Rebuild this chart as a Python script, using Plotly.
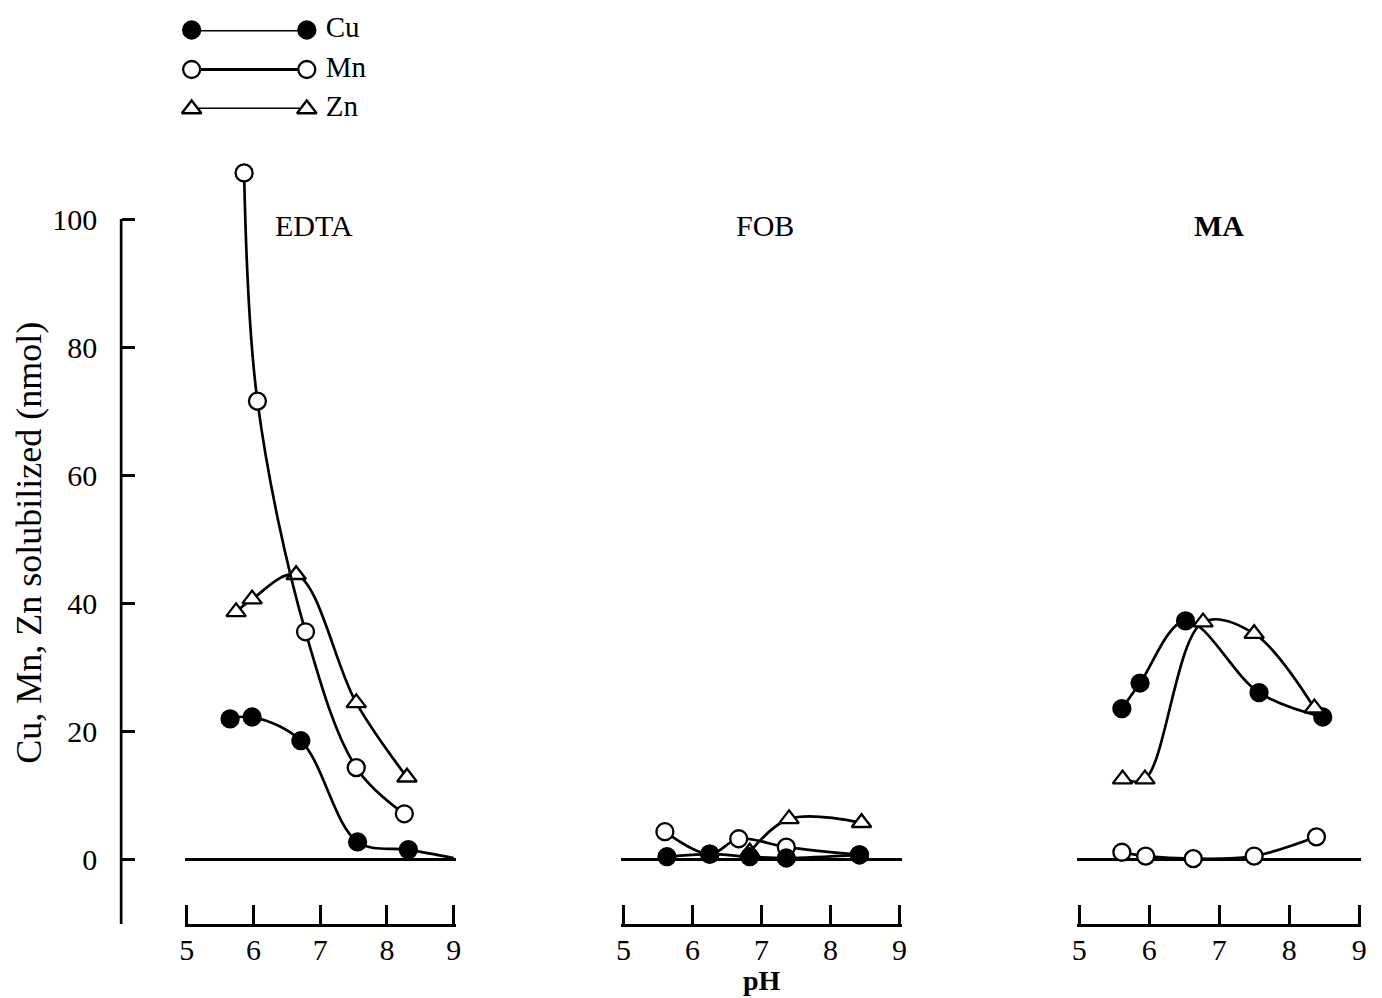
import plotly.graph_objects as go

# pH values and solubilized metal (nmol) for each chelator
edta_cu_ph = [5.65, 5.98, 6.71, 7.56, 8.32]
edta_cu = [22.0, 22.3, 18.6, 2.8, 1.6]
edta_mn_ph = [5.86, 6.06, 6.78, 7.54, 8.26]
edta_mn = [107.2, 71.6, 35.6, 14.4, 7.2]
edta_zn_ph = [5.74, 5.98, 6.64, 7.54, 8.30]
edta_zn = [38.7, 40.7, 44.5, 24.5, 12.9]
# Cu curve for EDTA levels off toward pH 9
edta_cu_tail_ph = [9.0]
edta_cu_tail = [0.3]

fob_cu_ph = [5.63, 6.25, 6.83, 7.36, 8.42]
fob_cu = [0.5, 0.9, 0.5, 0.3, 0.8]
fob_mn_ph = [5.60, 6.25, 6.67, 7.36, 8.42]
fob_mn = [4.4, 0.9, 3.3, 2.0, 0.8]
fob_zn_ph = [6.83, 7.40, 8.45]
fob_zn = [1.2, 6.4, 5.8]

ma_cu_ph = [5.61, 5.87, 6.52, 7.57, 8.48]
ma_cu = [23.6, 27.6, 37.3, 26.1, 22.3]
ma_mn_ph = [5.61, 5.95, 6.63, 7.50, 8.39]
ma_mn = [1.2, 0.6, 0.2, 0.6, 3.6]
ma_zn_ph = [5.62, 5.94, 6.77, 7.50, 8.36]
ma_zn = [12.6, 12.6, 37.1, 35.3, 23.7]

panel_names = ["EDTA", "FOB", "MA"]
panel_label_ph = [6.9, 7.05, 7.0]
metals = ["Cu", "Mn", "Zn"]
ph_ticks = [5, 6, 7, 8, 9]
y_ticks = [0, 20, 40, 60, 80, 100]
y_range = [-10, 110]
# a little padding keeps the end ticks at pH 5 and 9 drawn
PAD = 0.03

FONT = "Liberation Serif"
LW = 2.7
MSIZE = 17

styles = {
    "Cu": dict(symbol="circle", color="black"),
    "Mn": dict(symbol="circle", color="white"),
    "Zn": dict(symbol="triangle-up", color="white"),
}

fig = go.Figure()


def add_series(xs, ys, metal, xa, ya, tail_x=None, tail_y=None):
    lx = list(xs) + (list(tail_x) if tail_x else [])
    ly = list(ys) + (list(tail_y) if tail_y else [])
    fig.add_trace(go.Scatter(
        x=lx, y=ly, xaxis=xa, yaxis=ya, mode="lines",
        line=dict(color="black", width=LW, shape="spline", smoothing=1.0),
        showlegend=False, hoverinfo="skip"))
    st = styles[metal]
    fig.add_trace(go.Scatter(
        x=xs, y=ys, xaxis=xa, yaxis=ya, mode="markers",
        marker=dict(symbol=st["symbol"], size=MSIZE, color=st["color"],
                    line=dict(color="black", width=2.3)),
        showlegend=False, cliponaxis=False))


# EDTA
add_series(edta_zn_ph, edta_zn, "Zn", "x", "y")
add_series(edta_mn_ph, edta_mn, "Mn", "x", "y")
add_series(edta_cu_ph, edta_cu, "Cu", "x", "y", edta_cu_tail_ph, edta_cu_tail)
# FOB
add_series(fob_zn_ph, fob_zn, "Zn", "x2", "y2")
add_series(fob_mn_ph, fob_mn, "Mn", "x2", "y2")
add_series(fob_cu_ph, fob_cu, "Cu", "x2", "y2")
# MA
add_series(ma_mn_ph, ma_mn, "Mn", "x3", "y3")
add_series(ma_cu_ph, ma_cu, "Cu", "x3", "y3")
add_series(ma_zn_ph, ma_zn, "Zn", "x3", "y3")

# empty trace so the free-standing left scale gets drawn
fig.add_trace(go.Scatter(x=[], y=[], xaxis="x", yaxis="y5", mode="markers",
                         showlegend=False, hoverinfo="skip"))

# Key: a short line with a marker at each end, labelled by metal
for m in metals:
    st = styles[m]
    fig.add_trace(go.Scatter(
        x=[0, 1], y=[m, m], xaxis="x4", yaxis="y4", mode="lines+markers+text",
        line=dict(color="black", width=2.8),
        marker=dict(symbol=st["symbol"], size=17, color=st["color"],
                    line=dict(color="black", width=2.3)),
        text=["", " " + m], textposition="middle right",
        textfont=dict(family=FONT, size=29, color="black"),
        showlegend=False, cliponaxis=False, hoverinfo="skip"))

W, H = 1382, 998
# pixel spans of pH 5..9 for each panel
spans = [(183, 452), (623, 901), (1082, 1364)]
y_dom = [(H - 924) / H, (H - 155) / H]

tick_font = dict(family=FONT, size=30, color="black")

layout = dict(
    width=W, height=H, margin=dict(l=0, r=0, t=0, b=0),
    paper_bgcolor="white", plot_bgcolor="white", showlegend=False,
    xaxis4=dict(domain=[188 / W, 304 / W], range=[0, 1], visible=False, anchor="y4"),
    yaxis4=dict(domain=[(H - 109) / H, (H - 30) / H], type="category",
                categoryarray=metals, range=[2, 0], visible=False, anchor="x4"),
    # visible vertical scale at the left of the figure
    yaxis5=dict(
        domain=y_dom, range=y_range, tickvals=y_ticks, ticks="inside",
        ticklen=13, tickwidth=2.5, tickcolor="black", showline=False,
        showgrid=False, zeroline=False, anchor="free", position=117 / W,
        overlaying="y", side="left", ticklabelstandoff=24, tickfont=tick_font),
)
for i in range(3):
    sfx = "" if i == 0 else str(i + 1)
    a, b = spans[i]
    per = (b - a) / 4.0
    dom = [(a - PAD * per) / W, (b + PAD * per) / W]
    layout["xaxis" + sfx] = dict(
        domain=dom, range=[5 - PAD, 9 + PAD], tickvals=ph_ticks,
        ticks="inside", ticklen=19, tickwidth=2.5, tickcolor="black",
        showline=True, linecolor="black", linewidth=2.7, showgrid=False,
        zeroline=False, anchor="y" + sfx, ticklabelstandoff=-3,
        tickfont=tick_font)
    ydef = dict(domain=y_dom, range=y_range, showticklabels=False, ticks="",
                showline=False, showgrid=False, zeroline=True,
                zerolinecolor="black", zerolinewidth=2.7, anchor="x" + sfx)
    if i > 0:
        ydef["matches"] = "y"
    layout["yaxis" + sfx] = ydef

fig.update_layout(**layout)

# Vertical axis line from -10 to 100
fig.add_shape(type="line", xref="paper", yref="y", x0=117 / W, x1=117 / W,
              y0=-10, y1=100, line=dict(color="black", width=2.7))

annotations = []
for i, (name, px) in enumerate(zip(panel_names, panel_label_ph)):
    sfx = "" if i == 0 else str(i + 1)
    annotations.append(dict(
        text=f"<b>{name}</b>" if name == "MA" else name, x=px, y=99,
        xref="x" + sfx, yref="y" + sfx, showarrow=False,
        xanchor="center", yanchor="middle",
        font=dict(family=FONT, size=30, color="black")))
annotations.append(dict(
    text="Cu, Mn, Zn solubilized (nmol)", x=24 / W, y=(H - 543) / H,
    xref="paper", yref="paper", showarrow=False, textangle=-90,
    xanchor="center", yanchor="middle",
    font=dict(family=FONT, size=36, color="black")))
annotations.append(dict(
    text="<b>pH</b>", x=763 / W, y=(H - 980) / H, xref="paper", yref="paper",
    showarrow=False, xanchor="center", yanchor="middle",
    font=dict(family=FONT, size=28, color="black")))
fig.update_layout(annotations=annotations)

fig.write_html("out.html")
